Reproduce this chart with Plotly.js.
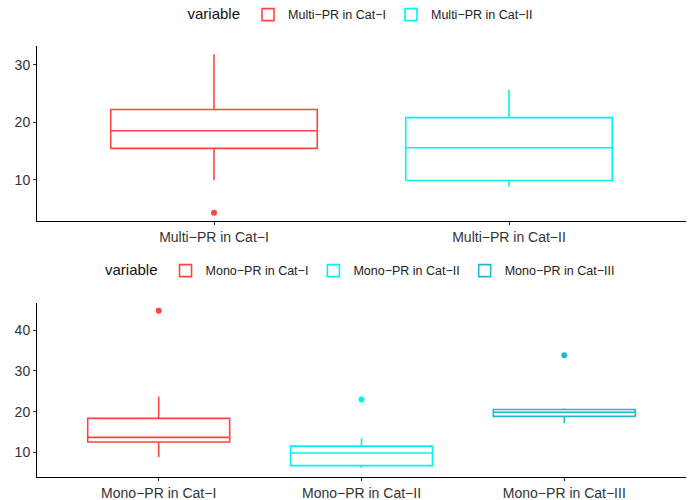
<!DOCTYPE html>
<html>
<head>
<meta charset="utf-8">
<script src="https://cdn.plot.ly/plotly-3.0.1.min.js"></script>
<style>html,body{margin:0;padding:0;background:#fff;}#chart{width:694px;height:500px;}</style>
</head>
<body>
<div id="chart"></div>
<script>
// Top panel: Multi-PR
const multiCats = ["Multi\u2212PR in Cat\u2212I", "Multi\u2212PR in Cat\u2212II"];
const multiQ1 = [15.5, 9.9];
const multiMedian = [18.55, 15.6];
const multiQ3 = [22.25, 20.85];
const multiLower = [9.95, 8.85];
const multiUpper = [31.85, 25.65];
const multiOutliers = [[4.3], []];
const multiColors = ["#FF4444", "#00F2F2"];

// Bottom panel: Mono-PR
const monoCats = ["Mono\u2212PR in Cat\u2212I", "Mono\u2212PR in Cat\u2212II", "Mono\u2212PR in Cat\u2212III"];
const monoQ1 = [12.55, 6.75, 18.85];
const monoMedian = [13.7, 9.85, 19.85];
const monoQ3 = [18.35, 11.55, 20.55];
const monoLower = [8.85, 6.15, 17.15];
const monoUpper = [23.75, 13.5, 20.8];
const monoOutliers = [[44.8], [23.0], [33.85]];
const monoColors = ["#FF4444", "#00F2F2", "#22B8CC"];

const traces = [];
function addBoxes(cats, q1, med, q3, lo, hi, outl, colors, xa, ya, leg) {
  cats.forEach((c, i) => {
    traces.push({
      type: "box", name: c, x: [c], q1: [q1[i]], median: [med[i]], q3: [q3[i]],
      lowerfence: [lo[i]], upperfence: [hi[i]],
      boxpoints: false, width: 0.7, whiskerwidth: 0,
      line: {color: colors[i], width: 1.6}, fillcolor: "rgba(255,255,255,0)",
      xaxis: xa, yaxis: ya, legend: leg, hoverinfo: "skip"
    });
    if (outl[i].length) {
      traces.push({
        type: "scatter", mode: "markers", x: outl[i].map(() => c), y: outl[i],
        marker: {color: colors[i], size: 6}, showlegend: false,
        xaxis: xa, yaxis: ya, hoverinfo: "skip"
      });
    }
  });
}
addBoxes(multiCats, multiQ1, multiMedian, multiQ3, multiLower, multiUpper, multiOutliers, multiColors, "x", "y", "legend");
addBoxes(monoCats, monoQ1, monoMedian, monoQ3, monoLower, monoUpper, monoOutliers, monoColors, "x2", "y2", "legend2");

const FAM = "Liberation Sans, Arial, sans-serif";
const tickFont = {family: FAM, size: 14, color: "#333"};
const axBase = {showgrid: false, zeroline: false, showline: true, linecolor: "#000", linewidth: 1,
  ticks: "outside", ticklen: 3, tickcolor: "#333", tickfont: tickFont};

const legBase = {orientation: "h", xanchor: "center", x: 0.5, yanchor: "middle",
  font: {family: FAM, size: 12.5, color: "#222"},
  title: {text: "variable", side: "left", font: {family: FAM, size: 15, color: "#111"}},
  itemwidth: 30, bgcolor: "rgba(0,0,0,0)", tracegroupgap: 0};

const layout = {
  width: 694, height: 500,
  margin: {l: 37, r: 8, t: 46, b: 23, autoexpand: false},
  paper_bgcolor: "#fff", plot_bgcolor: "#fff",
  boxmode: "overlay",
  showlegend: true,
  xaxis: Object.assign({}, axBase, {domain: [0, 1], anchor: "y", type: "category", range: [-0.6, 1.6]}),
  yaxis: Object.assign({}, axBase, {domain: [0.594, 1], anchor: "x", range: [2.87, 33.3], dtick: 10}),
  xaxis2: Object.assign({}, axBase, {domain: [0, 1], anchor: "y2", type: "category", range: [-0.6, 2.6]}),
  yaxis2: Object.assign({}, axBase, {domain: [0, 0.4037], anchor: "x2", range: [3.96, 46.7], dtick: 10}),
  legend: Object.assign({}, legBase, {y: 1.072}),
  legend2: Object.assign({}, legBase, {y: 0.478})
};

Plotly.newPlot("chart", traces, layout, {displayModeBar: false, staticPlot: true});
</script>
</body>
</html>
